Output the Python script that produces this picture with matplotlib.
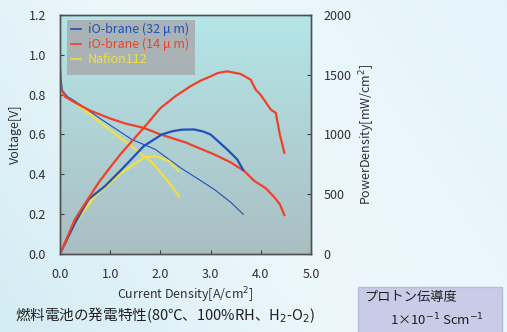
import numpy as np
import matplotlib
matplotlib.use("Agg")
import matplotlib.pyplot as plt
from matplotlib.colors import LinearSegmentedColormap
from matplotlib.patches import Rectangle

plt.rcParams["font.family"] = ["Noto Sans CJK JP", "DejaVu Sans"]

# ── 读图数据 ───────────────────────────────────────────────
# iO-brane (14 µm)  红
red_i = [0.0, 0.02, 0.1, 0.3, 0.6, 1.0, 1.3, 1.67, 2.0, 2.5, 3.07, 3.4, 3.67, 3.87, 4.1, 4.27, 4.38, 4.47]
red_v = [0.88, 0.83, 0.79, 0.76, 0.72, 0.68, 0.655, 0.633, 0.60, 0.56, 0.50, 0.46, 0.417, 0.367, 0.33, 0.285, 0.25, 0.195]
red_pi = [0.0, 0.3, 0.77, 1.0, 1.23, 1.67, 2.0, 2.3, 2.6, 2.8, 3.0, 3.15, 3.33, 3.6, 3.8, 3.9, 4.0, 4.2, 4.3, 4.38, 4.47]
red_p = [0, 292, 597, 725, 847, 1056, 1220, 1320, 1403, 1450, 1486, 1515, 1528, 1506, 1458, 1375, 1330, 1208, 1180, 1000, 847]

# iO-brane (32 µm)  蓝
blue_i = [0.0, 0.02, 0.05, 0.15, 0.3, 0.8, 1.43, 1.9, 2.4, 2.5, 3.07, 3.4, 3.65]
blue_v = [1.0, 0.88, 0.82, 0.79, 0.767, 0.68, 0.575, 0.525, 0.433, 0.417, 0.325, 0.26, 0.2]
blue_pi = [0.0, 0.3, 0.57, 0.9, 1.23, 1.67, 2.03, 2.25, 2.43, 2.67, 2.85, 3.0, 3.33, 3.53, 3.65]
blue_p = [0, 260, 458, 569, 708, 903, 1000, 1028, 1040, 1042, 1025, 1000, 875, 792, 703]

# Nafion112  黄
yel_i = [0.0, 0.03, 0.1, 0.3, 0.9, 1.43, 1.83, 2.17, 2.37]
yel_v = [0.86, 0.82, 0.79, 0.76, 0.64, 0.54, 0.46, 0.36, 0.29]
yel_pi = [0.0, 0.3, 0.7, 1.23, 1.67, 1.9, 2.17, 2.37]
yel_p = [0, 260, 486, 681, 806, 819, 778, 694]

series_names = ["iO-brane (32 \u03bc m)", "iO-brane (14 \u03bc m)", "Nafion112"]
c_blue, c_red, c_yel = "#2050b8", "#f04028", "#f0e040"

fig = plt.figure(figsize=(5.07, 3.32), dpi=100)

# 背景渐变
bg = fig.add_axes([0, 0, 1, 1], zorder=-10)
bg_cmap = LinearSegmentedColormap.from_list("bg", ["#d4ecf4", "#eef8fc", "#e4f4fa"])
gx = np.linspace(0, 1, 256)
bg.imshow(np.add.outer(gx[::-1] * 0.3, gx * 0.7), cmap=bg_cmap, aspect="auto",
          extent=[0, 1, 0, 1])
bg.axis("off")

ax = fig.add_axes([0.1183, 0.235, 0.495, 0.72])
ax2 = ax.twinx()

face_cmap = LinearSegmentedColormap.from_list("face", ["#aabec2", "#b4e6e8"])
ax.imshow(np.linspace(0, 1, 256).reshape(-1, 1)[::-1], cmap=face_cmap, aspect="auto",
          extent=[0, 5, 0, 1.2], zorder=0)

ax.plot(yel_i, yel_v, color=c_yel, lw=1.6, zorder=3)
ax.plot(blue_i, blue_v, color=c_blue, lw=0.8, zorder=3)
ax.plot(red_i, red_v, color=c_red, lw=1.6, zorder=4)
ax2.plot(yel_pi, yel_p, color=c_yel, lw=1.6)
ax2.plot(blue_pi, blue_p, color=c_blue, lw=1.6)
ax2.plot(red_pi, red_p, color=c_red, lw=1.6)

ax.set_xlim(0, 5)
ax.set_ylim(0, 1.2)
ax2.set_ylim(0, 2000)
ax.set_xticks(np.arange(0, 5.01, 1.0))
ax.set_xticklabels([f"{v:.1f}" for v in np.arange(0, 5.01, 1.0)])
ax.set_yticks(np.arange(0, 1.21, 0.2))
ax.set_yticklabels([f"{v:.1f}" for v in np.arange(0, 1.21, 0.2)])
ax2.set_yticks([0, 500, 1000, 1500, 2000])

tick_kw = dict(direction="in", length=3, labelsize=9, colors="#404040", labelcolor="#303030")
ax.tick_params(axis="x", pad=10, **tick_kw)
ax.tick_params(axis="y", pad=10, **tick_kw)
ax2.tick_params(axis="y", pad=9, **tick_kw)
for a in (ax, ax2):
    for s in a.spines.values():
        s.set_color("#505050")
        s.set_linewidth(1.0)

ax.set_xlabel("Current Density[A/cm$^2$]", fontsize=9, color="#303030", labelpad=3)
ax.set_ylabel("Voltage[V]", fontsize=9, color="#303030", labelpad=5)
ax2.set_ylabel("PowerDensity[mW/cm$^2$]", fontsize=9, color="#303030", labelpad=4)

# 图例（灰色框，文字同线色）
ax.add_patch(Rectangle((0.14, 0.9), 2.55, 0.275, facecolor="#a8aeb0", edgecolor="none",
                       alpha=0.9, zorder=5))
for k, (name, c) in enumerate(zip(series_names, [c_blue, c_red, c_yel])):
    yk = 1.13 - k * 0.076
    ax.plot([0.22, 0.42], [yk, yk], color=c, lw=1.2, zorder=6)
    ax.text(0.55, yk, name, color=c, fontsize=9, va="center", zorder=6)

# 下方注释
fig.text(0.03, 0.035, "燃料電池の発電特性(80℃、100%RH、H$_2$-O$_2$)", fontsize=10.5, color="#202020")
fig.patches.append(Rectangle((0.706, -0.01), 0.284, 0.146, transform=fig.transFigure,
                             facecolor="#c8cce6", edgecolor="#b8bcd8", figure=fig))
fig.text(0.718, 0.095, "プロトン伝導度", fontsize=9.5, color="#202020")
fig.text(0.77, 0.02, "1\u00d710$^{-1}$ Scm$^{-1}$", fontsize=9.5, color="#202020")

fig.savefig("out.png", dpi=100)
